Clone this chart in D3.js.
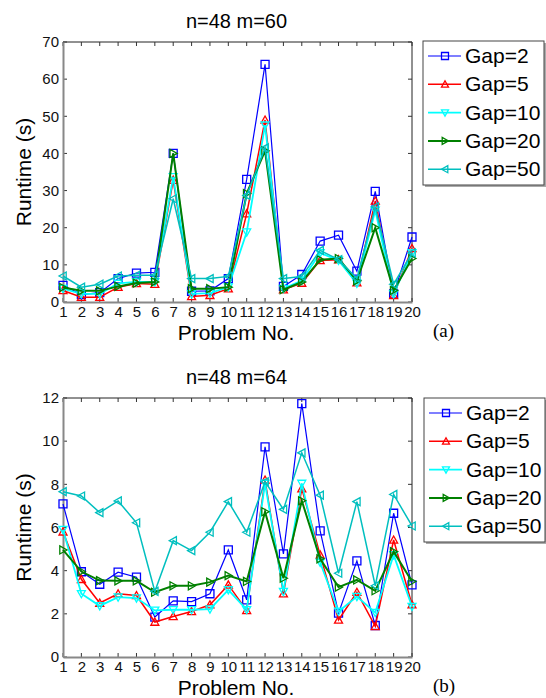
<!DOCTYPE html>
<html>
<head>
<meta charset="utf-8">
<script src="https://cdn.jsdelivr.net/npm/d3@7"></script>
<style>
  body { margin: 0; background: #fff; }
  svg { display: block; font-family: Arial, "Liberation Sans", sans-serif; }
</style>
</head>
<body>
<div id="chart"></div>
<script>
// problem numbers on the x axis
const problems = d3.range(1, 21);
const gapLabels = ['Gap=2', 'Gap=5', 'Gap=10', 'Gap=20', 'Gap=50'];

// panel (a): n=48 m=60
const a_gap2  = [4.5, 2, 2.5, 6.3, 7.8, 8, 40, 2.9, 3, 6.3, 33, 64, 4.2, 7.4, 16.4, 18, 8.3, 29.8, 2.2, 17.5];
const a_gap5  = [3.1, 1.3, 1.3, 4, 5, 4.8, 32.8, 1.5, 1.8, 3.6, 23.8, 49, 3.3, 5.1, 11.2, 11.4, 5.2, 27.2, 1.8, 14.4];
const a_gap10 = [3.6, 2.2, 2.2, 5, 5.4, 5.4, 33.7, 2.2, 2.4, 4, 18.8, 47.6, 3.6, 5.8, 13.2, 11.2, 5, 24.7, 2.2, 13.2];
const a_gap20 = [3.9, 3, 3, 4.2, 5.1, 5.4, 40, 3.6, 3.6, 4, 29.2, 40.7, 3.3, 5.4, 11.4, 11.7, 5.7, 20, 3.1, 11.7];
const a_gap50 = [7, 4, 4.8, 7, 7.2, 7.2, 27.8, 6.3, 6.3, 6.9, 28.7, 41.5, 6.3, 6.9, 13.9, 11.4, 6.3, 25.6, 4.8, 13.2];

// panel (b): n=48 m=64
const b_gap2  = [7.09, 3.95, 3.37, 3.93, 3.7, 1.85, 2.6, 2.57, 2.93, 4.96, 2.65, 9.74, 4.78, 11.74, 5.84, 2.03, 4.45, 1.46, 6.66, 3.34];
const b_gap5  = [5.8, 3.6, 2.5, 2.93, 2.85, 1.62, 1.88, 2.11, 2.42, 3.34, 2.16, 8.2, 2.93, 7.8, 4.73, 1.72, 3.0, 1.42, 5.42, 2.42];
const b_gap10 = [5.9, 2.93, 2.37, 2.77, 2.73, 2.16, 2.19, 2.19, 2.22, 3.11, 2.19, 8.04, 3.03, 8.04, 4.38, 2.11, 2.8, 2.06, 4.73, 2.34];
const b_gap20 = [4.96, 3.96, 3.54, 3.53, 3.53, 3.0, 3.3, 3.3, 3.47, 3.77, 3.5, 6.73, 3.65, 7.24, 4.55, 3.24, 3.57, 3.07, 4.88, 3.5];
const b_gap50 = [7.66, 7.46, 6.69, 7.23, 6.22, 3.04, 5.39, 4.93, 5.78, 7.2, 5.78, 8.12, 6.84, 9.46, 7.5, 3.88, 7.2, 3.3, 7.53, 6.07];

const aTicks = [0, 10, 20, 30, 40, 50, 60, 70];
const bTicks = [0, 2, 4, 6, 8, 10, 12];

// series styles: colour, line width, marker
const styles = [
  { color: '#0000ff', width: 1.2, marker: 'square' },
  { color: '#ff0000', width: 1.5, marker: 'up' },
  { color: '#00ffff', width: 1.8, marker: 'down' },
  { color: '#008000', width: 2, marker: 'right' },
  { color: '#00bfbf', width: 1.5, marker: 'left' },
];

const width = 546, height = 698;
const svg = d3.select('#chart').append('svg').attr('width', width).attr('height', height);

// marker path centred on 0,0
function markerPath(kind, s) {
  const h = s / 2;
  if (kind === 'square') return `M${-h},${-h}H${h}V${h}H${-h}Z`;
  if (kind === 'up') return `M0,${-h}L${h},${h * 0.8}L${-h},${h * 0.8}Z`;
  if (kind === 'down') return `M0,${h}L${h},${-h * 0.8}L${-h},${-h * 0.8}Z`;
  if (kind === 'right') return `M${h},0L${-h * 0.8},${h}L${-h * 0.8},${-h}Z`;
  return `M${-h},0L${h * 0.8},${h}L${h * 0.8},${-h}Z`;
}

// drawPanel()
// one runtime plot with its axes, labels and legend
function drawPanel(opts) {
  const g = svg.append('g');
  const x = d3.scaleLinear().domain([1, 20]).range([opts.left, opts.right]);
  const y = d3.scaleLinear().domain([0, opts.yMax]).range([opts.bottom, opts.top]);

  // frame: top and right black, bottom and left grey
  g.append('line').attr('x1', opts.left).attr('x2', opts.right).attr('y1', opts.top).attr('y2', opts.top)
    .attr('stroke', '#222').attr('stroke-width', 1);
  g.append('line').attr('x1', opts.right).attr('x2', opts.right).attr('y1', opts.top).attr('y2', opts.bottom)
    .attr('stroke', '#222').attr('stroke-width', 1);

  // inward ticks
  const xt = g.append('g');
  problems.forEach(p => {
    xt.append('line').attr('x1', x(p)).attr('x2', x(p)).attr('y1', opts.bottom).attr('y2', opts.bottom - 4).attr('stroke', '#333');
    xt.append('line').attr('x1', x(p)).attr('x2', x(p)).attr('y1', opts.top).attr('y2', opts.top + 4).attr('stroke', '#333');
  });
  opts.ticks.forEach(t => {
    xt.append('line').attr('x1', opts.left).attr('x2', opts.left + 4).attr('y1', y(t)).attr('y2', y(t)).attr('stroke', '#333');
    xt.append('line').attr('x1', opts.right).attr('x2', opts.right - 4).attr('y1', y(t)).attr('y2', y(t)).attr('stroke', '#333');
  });

  // axes with labels only
  const xAxis = g.append('g').attr('transform', `translate(0,${opts.bottom})`)
    .call(d3.axisBottom(x).tickValues(problems).tickFormat(d3.format('d')).tickSize(0).tickPadding(4));
  xAxis.select('.domain').attr('stroke', '#888').attr('stroke-width', 2);
  xAxis.selectAll('text').attr('font-size', 15).attr('fill', '#111').attr('font-family', 'Arial, "Liberation Sans", sans-serif');

  const yAxis = g.append('g').attr('transform', `translate(${opts.left},0)`)
    .call(d3.axisLeft(y).tickValues(opts.ticks).tickSize(0).tickPadding(4));
  yAxis.select('.domain').attr('stroke', '#888').attr('stroke-width', 2);
  yAxis.selectAll('text').attr('font-size', 15).attr('fill', '#111').attr('font-family', 'Arial, "Liberation Sans", sans-serif');

  // series
  const line = d3.line().x((d, i) => x(problems[i])).y(d => y(d));
  opts.series.forEach((vals, k) => {
    const st = styles[k];
    g.append('path').datum(vals).attr('d', line).attr('fill', 'none')
      .attr('stroke', st.color).attr('stroke-width', st.width).attr('stroke-linejoin', 'miter');
    g.append('g').selectAll('path').data(vals).enter().append('path')
      .attr('transform', (d, i) => `translate(${x(problems[i])},${y(d)})`)
      .attr('d', markerPath(st.marker, 8))
      .attr('fill', 'none').attr('stroke', st.color).attr('stroke-width', 1.3);
  });

  // titles and labels
  g.append('text').attr('x', (opts.left + opts.right) / 2 - 1).attr('y', opts.top - 14)
    .attr('text-anchor', 'middle').attr('font-size', 20).text(opts.title);
  g.append('text').attr('x', 236).attr('y', opts.bottom + 38)
    .attr('text-anchor', 'middle').attr('font-size', 21).text('Problem No.');
  g.append('text').attr('transform', `translate(31,${(opts.top + opts.bottom) / 2}) rotate(-90)`)
    .attr('text-anchor', 'middle').attr('font-size', 21).text('Runtime (s)');
  g.append('text').attr('x', 433).attr('y', opts.bottom + 35)
    .attr('font-family', '"Liberation Serif", "Times New Roman", serif').attr('font-size', 19).text(opts.tag);

  // legend
  const lg = g.append('g').attr('transform', `translate(${opts.legendX},${opts.legendY})`);
  lg.append('rect').attr('x', 2).attr('y', 2).attr('width', 121).attr('height', 144).attr('fill', '#aaa');
  lg.append('rect').attr('width', 121).attr('height', 144).attr('fill', '#fff').attr('stroke', '#444').attr('stroke-width', 1);
  gapLabels.forEach((name, k) => {
    const st = styles[k];
    const cy = 15 + k * 28.3;
    lg.append('line').attr('x1', 5).attr('x2', 38).attr('y1', cy).attr('y2', cy)
      .attr('stroke', st.color).attr('stroke-width', st.width);
    lg.append('path').attr('transform', `translate(22,${cy})`).attr('d', markerPath(st.marker, 7))
      .attr('fill', 'none').attr('stroke', st.color).attr('stroke-width', 1.3);
    lg.append('text').attr('x', 42).attr('y', cy + 7).attr('font-size', 21).text(name);
  });
}

drawPanel({
  left: 63, right: 412, top: 42, bottom: 302, yMax: 70, ticks: aTicks,
  series: [a_gap2, a_gap5, a_gap10, a_gap20, a_gap50],
  title: 'n=48 m=60', tag: '(a)', legendX: 423, legendY: 41,
});

drawPanel({
  left: 63, right: 412, top: 398, bottom: 657, yMax: 12, ticks: bTicks,
  series: [b_gap2, b_gap5, b_gap10, b_gap20, b_gap50],
  title: 'n=48 m=64', tag: '(b)', legendX: 424, legendY: 398,
});
</script>
</body>
</html>
